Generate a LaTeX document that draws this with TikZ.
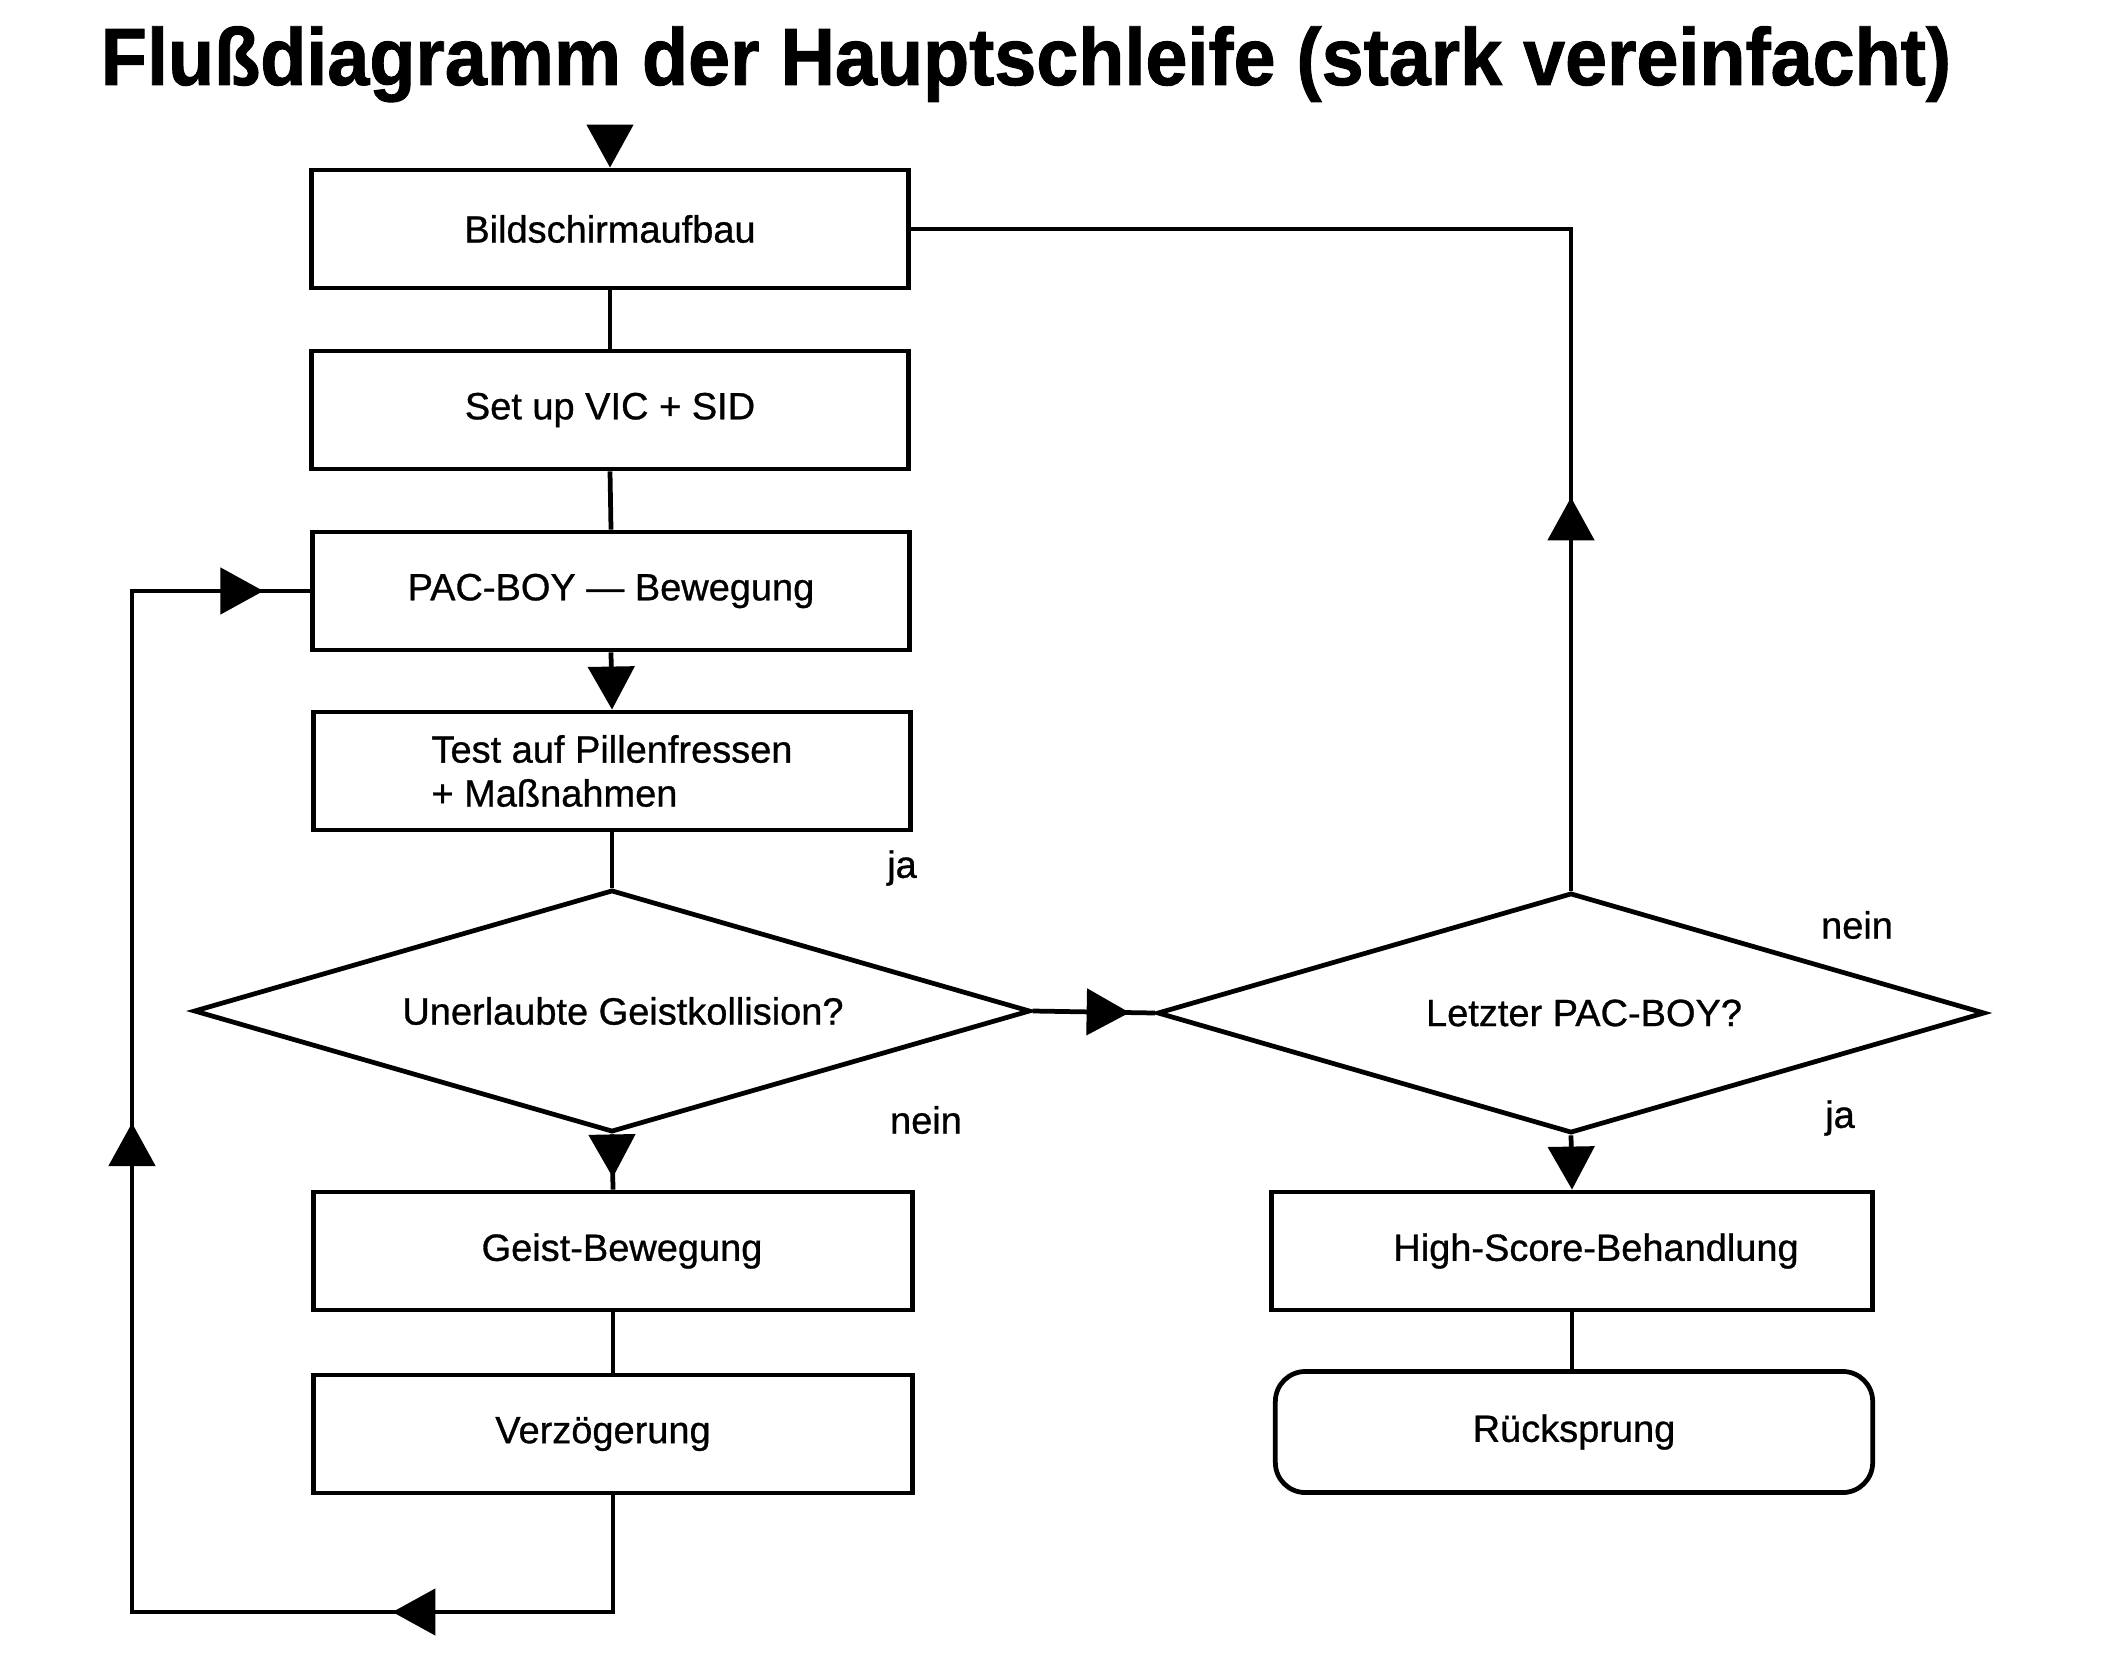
\documentclass[tikz,border=0pt]{standalone}
\usepackage{fontspec}
\setmainfont[FakeBold=0.8]{Liberation Sans}
\newfontfamily\titlefont[FakeBold=1.2]{Liberation Sans}
\usetikzlibrary{arrows.meta,shapes.geometric,decorations.markings}
\begin{document}
\begin{tikzpicture}[x=0.01cm,y=-0.01cm,line width=1.35pt,
  every node/.style={font=\fontsize{10.8}{12.5}\selectfont},
  box/.style={draw,rectangle,minimum width=5.97cm,minimum height=1.18cm,inner sep=0pt},
  endbox/.style={box,rounded corners=0.3cm,minimum height=1.21cm},
  dia/.style={draw,diamond,inner sep=0pt},
  lbl/.style={inner sep=0pt},
  arrowend/.style={-{Triangle[length=0.43cm,width=0.46cm]}},
  midarrow/.style={postaction={decorate},decoration={markings,
      mark=at position #1 with {\arrow{Triangle[length=0.43cm,width=0.46cm]}}}},
]
\useasboundingbox (0,0) rectangle (2101,1652);

% title
\node[anchor=base,inner sep=0pt] (title) at (1026,85)
  {\scalebox{0.95}[1.02]{\titlefont\fontsize{22.6}{26}\selectfont\bfseries Flußdiagramm der Hauptschleife (stark vereinfacht)}};

% boxes
\node[box] (b1) at (610,229) {Bildschirmaufbau};
\node[box] (b2) at (610,410) {Set up VIC + SID};
\node[box] (b3) at (611,591) {PAC-BOY — Bewegung};
\node[box,align=left] (b4) at (612,771) {Test auf Pillenfressen\\+ Maßnahmen};
\node[dia,minimum width=8.36cm,minimum height=2.42cm,
  label={[lbl,xshift=0.11cm]center:Unerlaubte Geistkollision?}] (d1) at (612,1011) {};
\node[dia,minimum width=8.27cm,minimum height=2.40cm,
  label={[lbl,xshift=0.13cm]center:Letzter PAC-BOY?}] (d2) at (1571,1013) {};
\node[box,minimum width=5.98cm] (g) at (613,1251) {\hspace*{0.18cm}Geist-Bewegung};
\node[box,minimum width=5.98cm] (v) at (613,1434) {Verzögerung\hspace*{0.2cm}};
\node[box,minimum width=6.01cm] (hs) at (1572,1251) {\hspace*{0.48cm}High-Score-Behandlung};
\node[endbox] (rs) at (1574,1432) {Rücksprung};

% branch labels
\node[lbl] (ja1) at (902,868) {ja};
\node[lbl] (nein1) at (926,1120) {nein};
\node[lbl] (nein2) at (1857,925) {nein};
\node[lbl] (ja2) at (1840,1118) {ja};

% coordinates
\coordinate (entry) at (610,125);
\coordinate (lb) at (132,1612);
\coordinate (rc) at (1571,229);

% connectors
\draw[arrowend] (entry) -- (b1.north);
\draw (b1.south) -- (b2.north);
\draw (b2.south) -- (b3.north);
\draw[arrowend] (b3.south) -- (b4.north);
\draw (b4.south) -- (d1.north);
\draw[midarrow=0.43cm] (d1.south) -- (g.north);
\draw (g.south) -- (v.south |- v.north);
\draw[midarrow=0.97cm] (d1.east) -- (d2.west);
\draw[arrowend] (d2.south) -- (hs.north);
\draw (hs.south) -- (rs.north -| hs.south);
\draw[midarrow=3.93cm] (d2.north) -- (rc) -- (b1.east);
\draw[postaction={decorate},decoration={markings,
    mark=at position 3.37cm with {\arrow{Triangle[length=0.43cm,width=0.46cm]}},
    mark=at position 10.86cm with {\arrow{Triangle[length=0.43cm,width=0.46cm]}},
    mark=at position 17.49cm with {\arrow{Triangle[length=0.43cm,width=0.46cm]}}}]
  (v.south) |- (lb) |- (b3.west);
\end{tikzpicture}
\end{document}
